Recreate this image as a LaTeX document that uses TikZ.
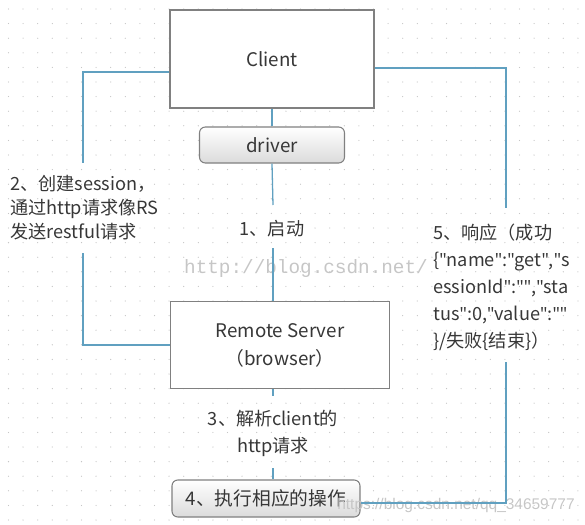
\documentclass[tikz,border=0pt]{standalone}
\usepackage{fontspec}
\setmainfont{Noto Sans CJK SC}
\newfontfamily\wmmono{Liberation Mono}
\newfontfamily\wmsans{Liberation Sans}
\newfontfamily\latinsans{Noto Sans}
\newcommand{\dq}{{\latinsans"}}
\usetikzlibrary{positioning}

\definecolor{wireblue}{RGB}{96,160,192}
\definecolor{boxgray}{RGB}{128,128,128}
\definecolor{txtgray}{RGB}{55,55,55}

\tikzset{
    wire/.style={wireblue, line width=1.1pt},
    mainbox/.style={draw=boxgray, line width=0.9pt, fill=white, text=txtgray,
        font=\fontsize{16}{24}\selectfont, align=center},
    softbox/.style={draw=boxgray, line width=0.9pt, rounded corners=5pt,
        top color=white, bottom color=gray!28, text=txtgray,
        font=\fontsize{16}{20}\selectfont},
    lbl/.style={text=txtgray, font=\fontsize{15.5}{23}\selectfont, inner sep=0pt},
    wmark/.style={text=gray!45, inner sep=0pt},
}

\begin{document}
\begin{tikzpicture}[x=0.03cm, y=-0.03cm]
    \useasboundingbox (0,0) rectangle (585,524);

    % Dotted background
    \foreach \i in {0,...,39}
        \foreach \j in {0,...,35}
            \fill[gray!45] (8.5+14.6*\i, 9+14.6*\j) circle (0.55pt);

    % Boxes
    \node[mainbox, minimum width=6.12cm, minimum height=2.94cm] (client) at (272,59) {Client};
    \node[softbox, minimum width=4.35cm, minimum height=1.08cm] (driver) at (272,145) {driver};
    \node[mainbox, minimum width=6.57cm, minimum height=2.61cm] (remote) at (280,345) {Remote Server\\（browser）};
    \node[softbox, minimum width=5.64cm, minimum height=1.11cm] (exec) at (266,498.5) {4、执行相应的操作};

    % Labels
    \node[lbl, anchor=north west, align=left, font=\fontsize{15.5}{20.5}\selectfont] (create) at (10,175)
        {2、创建session，\\通过http请求像RS\\发送restful请求};
    \node[lbl] (start) at (272,229) {1、启动};
    \node[lbl, align=center] (parse) at (273,433) {3、解析client的\\http请求};
    \node[lbl, anchor=north west, align=left] (reply) at (433,224)
        {5、响应（成功\\\{\dq name\dq:\dq get\dq,\dq s\\essionId\dq:\dq\dq,\dq sta\\tus\dq:0,\dq value\dq:\dq\dq\\\}/失败\{结束\}）};

    % Watermarks
    \node[wmark, font=\wmmono\fontsize{16.5}{20}\selectfont] (wmtop) at (306,268) {http://blog.csdn.net/};
    \node[wmark, font=\wmsans\fontsize{13.2}{15}\selectfont] (wmbot) at (456,505) {https://blog.csdn.net/qq\_34659777};

    % Corner points of the wires
    \coordinate (ltop) at (83,72);
    \coordinate (lend) at (83,163);
    \coordinate (lgo) at (83,253);
    \coordinate (lbot) at (83,345);
    \coordinate (rtop) at (506,68);
    \coordinate (rend) at (506,208);
    \coordinate (rgo) at (506,362);
    \coordinate (rbot) at (506,503);
    \coordinate (mend) at (273,205);
    \coordinate (mgo) at (273,248);
    \coordinate (pend) at (273,396);
    \coordinate (pgo) at (273,468);

    % Wires
    \draw[wire] (client.west |- ltop) -- (ltop) -- (lend);
    \draw[wire] (lgo) -- (lbot) -- (remote.west);
    \draw[wire] (client.east |- rtop) -- (rtop) -- (rend);
    \draw[wire] (rgo) -- (rbot) -- (exec.east |- rbot);
    \draw[wire] (client.south) -- (driver.north);
    \draw[wire] (driver.south) -- (mend);
    \draw[wire] (mgo) -- (remote.north -| mgo);
    \draw[wire] (remote.south -| pend) -- (pend);
    \draw[wire] (pgo) -- (exec.north -| pgo);
\end{tikzpicture}
\end{document}
